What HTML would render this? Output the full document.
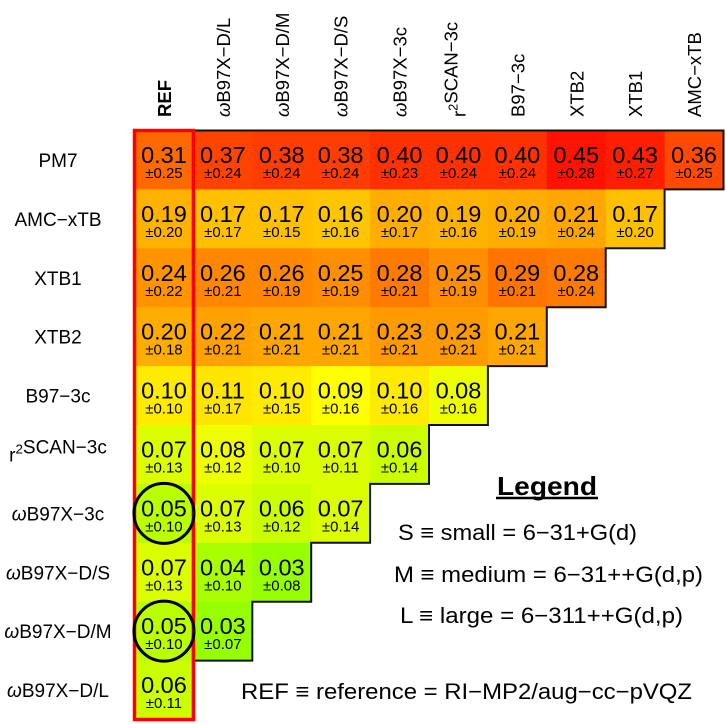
<!DOCTYPE html>
<html><head><meta charset="utf-8"><style>
html,body{margin:0;padding:0;background:#fff;width:726px;height:724px;overflow:hidden}
svg{display:block;font-family:"Liberation Sans",Arial,sans-serif}
</style></head><body>
<svg id="s" width="726" height="724" xmlns="http://www.w3.org/2000/svg"></svg>
<script>
const rows=["PM7","AMC−xTB","XTB1","XTB2","B97−3c","r²SCAN−3c","ωB97X−3c","ωB97X−D/S","ωB97X−D/M","ωB97X−D/L"];
const cols=["REF","ωB97X−D/L","ωB97X−D/M","ωB97X−D/S","ωB97X−3c","r²SCAN−3c","B97−3c","XTB2","XTB1","AMC−xTB"];
const V=[
[[.31,.25],[.37,.24],[.38,.24],[.38,.24],[.40,.23],[.40,.24],[.40,.24],[.45,.28],[.43,.27],[.36,.25]],
[[.19,.20],[.17,.17],[.17,.15],[.16,.16],[.20,.17],[.19,.16],[.20,.19],[.21,.24],[.17,.20]],
[[.24,.22],[.26,.21],[.26,.19],[.25,.19],[.28,.21],[.25,.19],[.29,.21],[.28,.24]],
[[.20,.18],[.22,.21],[.21,.21],[.21,.21],[.23,.21],[.23,.21],[.21,.21]],
[[.10,.10],[.11,.17],[.10,.15],[.09,.16],[.10,.16],[.08,.16]],
[[.07,.13],[.08,.12],[.07,.10],[.07,.11],[.06,.14]],
[[.05,.10],[.07,.13],[.06,.12],[.07,.14]],
[[.07,.13],[.04,.10],[.03,.08]],
[[.05,.10],[.03,.07]],
[[.06,.11]]];
function col(v){let r=255,g;
 if(v<=0.09){r=Math.round(150+(v-0.03)/0.06*105);g=255;}
 else{g=Math.max(0,Math.min(255,Math.round(235-(v-0.10)*620)));}
 return `rgb(${r},${g},0)`;}
const x0=134.5,y0=130.5,W=58.9,H=58.9;
let s='';
for(let i=0;i<10;i++)for(let j=0;j<10-i;j++){
 const [v,e]=V[i][j];const x=x0+j*W,y=y0+i*H;
 s+=`<rect x="${x}" y="${y}" width="${W+0.5}" height="${H+0.5}" fill="${col(v)}"/>`;
 s+=`<text x="${x+W/2}" y="${y+32.5}" font-size="23.5" text-anchor="middle">${v.toFixed(2)}</text>`;
 s+=`<text x="${x+W/2}" y="${y+47.5}" font-size="15" text-anchor="middle">±${e.toFixed(2)}</text>`;
}
let p=`M${x0} ${y0} L${x0+10*W} ${y0}`;
for(let i=0;i<10;i++){p+=` L${x0+(10-i)*W} ${y0+(i+1)*H} L${x0+(9-i)*W} ${y0+(i+1)*H}`;}
p+=` Z`;
s+=`<path d="${p}" fill="none" stroke="#111" stroke-width="2"/>`;
s+=`<rect x="${x0}" y="${y0}" width="${W}" height="${10*H}" fill="none" stroke="#f00" stroke-width="3.5"/>`;
s+=`<circle cx="${x0+W/2}" cy="${y0+6.5*H}" r="30" fill="none" stroke="#000" stroke-width="3"/>`;
s+=`<circle cx="${x0+W/2}" cy="${y0+8.5*H}" r="30" fill="none" stroke="#000" stroke-width="3"/>`;
function lab(t,sz){return t.replace("r²",`r<tspan dy='-8' font-size='${sz*0.7}'>2</tspan><tspan dy='8'></tspan>`).replace("ω","<tspan font-style='italic'>ω</tspan>");}
for(let i=0;i<10;i++){s+=`<text x="58" y="${y0+i*H+H/2+7}" font-size="19" text-anchor="middle">${lab(rows[i],19)}</text>`;}
for(let j=0;j<10;j++){const cx=x0+j*W+W/2+7;
 s+=`<text transform="translate(${cx},117) rotate(-90)" font-size="18.5" ${j==0?'font-weight="bold"':''}>${lab(cols[j],18.5)}</text>`;}
s+=`<text x="497" y="495" font-size="26" font-weight="bold" textLength="100" lengthAdjust="spacingAndGlyphs">Legend</text>`;
s+=`<line x1="496" y1="498" x2="598" y2="498" stroke="#000" stroke-width="2.5"/>`;
s+=`<text x="398" y="540" font-size="22" textLength="239" lengthAdjust="spacingAndGlyphs">S ≡ small = 6−31+G(d)</text>`;
s+=`<text x="394" y="582" font-size="22" textLength="309" lengthAdjust="spacingAndGlyphs">M ≡ medium = 6−31++G(d,p)</text>`;
s+=`<text x="400" y="623" font-size="22" textLength="283" lengthAdjust="spacingAndGlyphs">L ≡ large = 6−311++G(d,p)</text>`;
s+=`<text x="241" y="699" font-size="22" textLength="451" lengthAdjust="spacingAndGlyphs">REF ≡ reference = RI−MP2/aug−cc−pVQZ</text>`;
document.getElementById('s').innerHTML=s;
</script>
</body></html>
